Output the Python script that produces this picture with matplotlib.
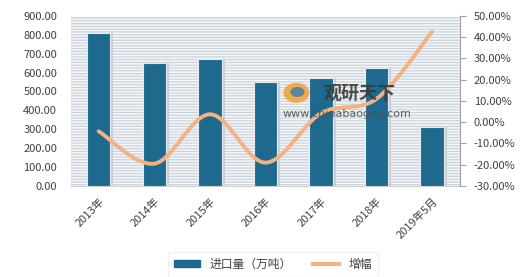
import matplotlib
matplotlib.use('Agg')
import matplotlib.pyplot as plt
from matplotlib.path import Path
from matplotlib.patches import PathPatch, Rectangle, Ellipse
from matplotlib.lines import Line2D
from matplotlib.ticker import FuncFormatter

plt.rcParams['font.family'] = ['Noto Sans CJK SC', 'DejaVu Sans']

years = ['2013年', '2014年', '2015年', '2016年', '2017年', '2018年', '2019年5月']
imports = [807, 648, 672, 551, 572, 625, 312]
growth = [-4.3, -19.5, 3.7, -19.0, 4.2, 11.0, 42.5]

bar_color = '#1d6a8e'
line_color = '#f4b183'
text_color = '#404040'

fig = plt.figure(figsize=(5.2, 2.77), dpi=100)
ax = fig.add_axes([0.1365, 0.3285, 0.748, 0.6145])
ax2 = ax.twinx()

# striped background
ax.set_facecolor('white')
plt.rcParams['hatch.color'] = '#c5d0da'
plt.rcParams['hatch.linewidth'] = 0.8
ax.add_patch(Rectangle((0, 0), 1, 1, transform=ax.transAxes, facecolor='#f4f6f8',
                       edgecolor='#c5d0da', hatch='------', linewidth=0, zorder=0))

x = list(range(len(years)))
# soft shadow then bars
ax.bar([i + 0.03 for i in x], imports, width=0.47, color='#b8bfc6', alpha=0.6,
       zorder=2, linewidth=0)
ax.bar(x, imports, width=0.42, color=bar_color, edgecolor='#e6eaee', linewidth=0.8, zorder=3)

ax.set_xlim(-0.5, len(years) - 0.5)
ax.set_ylim(0, 900)
ax.set_yticks(range(0, 901, 100))
ax.yaxis.set_major_formatter(FuncFormatter(lambda v, p: f'{v:.2f}'))
ax.set_xticks(x)
ax.set_xticklabels(years, rotation=45, ha='right', rotation_mode='anchor')
ax.tick_params(axis='x', length=0, pad=7, labelsize=8, colors=text_color)
ax.tick_params(axis='y', length=0, pad=10, labelsize=8, colors=text_color)
for s in ['left', 'top', 'right']:
    ax.spines[s].set_visible(False)
ax.spines['bottom'].set_color('#d0d0d0')

# smoothed growth line (bezier through the data points)
ax2.set_ylim(-30, 50)
ax2.set_yticks(range(-30, 51, 10))
ax2.yaxis.set_major_formatter(FuncFormatter(lambda v, p: f'{v:.2f}%'))
ax2.tick_params(axis='y', length=4, direction='out', color='#a0a0a0', pad=6,
                labelsize=8, colors=text_color)
for s in ['left', 'top', 'bottom']:
    ax2.spines[s].set_visible(False)
ax2.spines['right'].set_color('#a0a0a0')

pts = list(zip(x, growth))
verts = [pts[0]]
codes = [Path.MOVETO]
n = len(pts)
for i in range(n - 1):
    p0 = pts[i - 1] if i > 0 else pts[i]
    p1 = pts[i]
    p2 = pts[i + 1]
    p3 = pts[i + 2] if i + 2 < n else pts[i + 1]
    c1 = (p1[0] + (p2[0] - p0[0]) / 6, p1[1] + (p2[1] - p0[1]) / 6)
    c2 = (p2[0] - (p3[0] - p1[0]) / 6, p2[1] - (p3[1] - p1[1]) / 6)
    verts += [c1, c2, p2]
    codes += [Path.CURVE4] * 3
ax2.add_patch(PathPatch(Path(verts, codes), facecolor='none', edgecolor=line_color,
                        linewidth=2.8, capstyle='round', zorder=5))

# watermark logo + text
fig.add_artist(Ellipse((0.57, 0.665), 26 / 520, 20 / 277, transform=fig.transFigure,
                       facecolor='#f0a030', edgecolor='none', alpha=0.85, zorder=6))
fig.add_artist(Ellipse((0.572, 0.668), 14 / 520, 10 / 277, transform=fig.transFigure,
                       facecolor='#3a7ab0', edgecolor='none', alpha=0.8, zorder=6))
fig.text(0.622, 0.662, '观研天下', fontsize=13, fontweight='bold', color='#3a3a3a',
         va='center', ha='left', alpha=0.9)
fig.text(0.543, 0.59, 'www.chinabaogao.com', fontsize=8, color='#505050',
         va='center', ha='left', family=['DejaVu Sans'], alpha=0.9)

handles = [Rectangle((0, 0), 1, 1, color=bar_color),
           Line2D([0], [0], color=line_color, linewidth=3)]
leg = fig.legend(handles, ['进口量（万吨）', '增幅'], loc='center',
                 bbox_to_anchor=(0.525, 0.045), ncol=2, frameon=True, fontsize=8.5,
                 handlelength=2.2, handleheight=0.5, columnspacing=1.8, borderpad=0.5,
                 fancybox=False, shadow=False)
leg.get_frame().set_edgecolor('#eeeeee')
for t in leg.get_texts():
    t.set_color(text_color)

fig.savefig('out.png', dpi=100)
